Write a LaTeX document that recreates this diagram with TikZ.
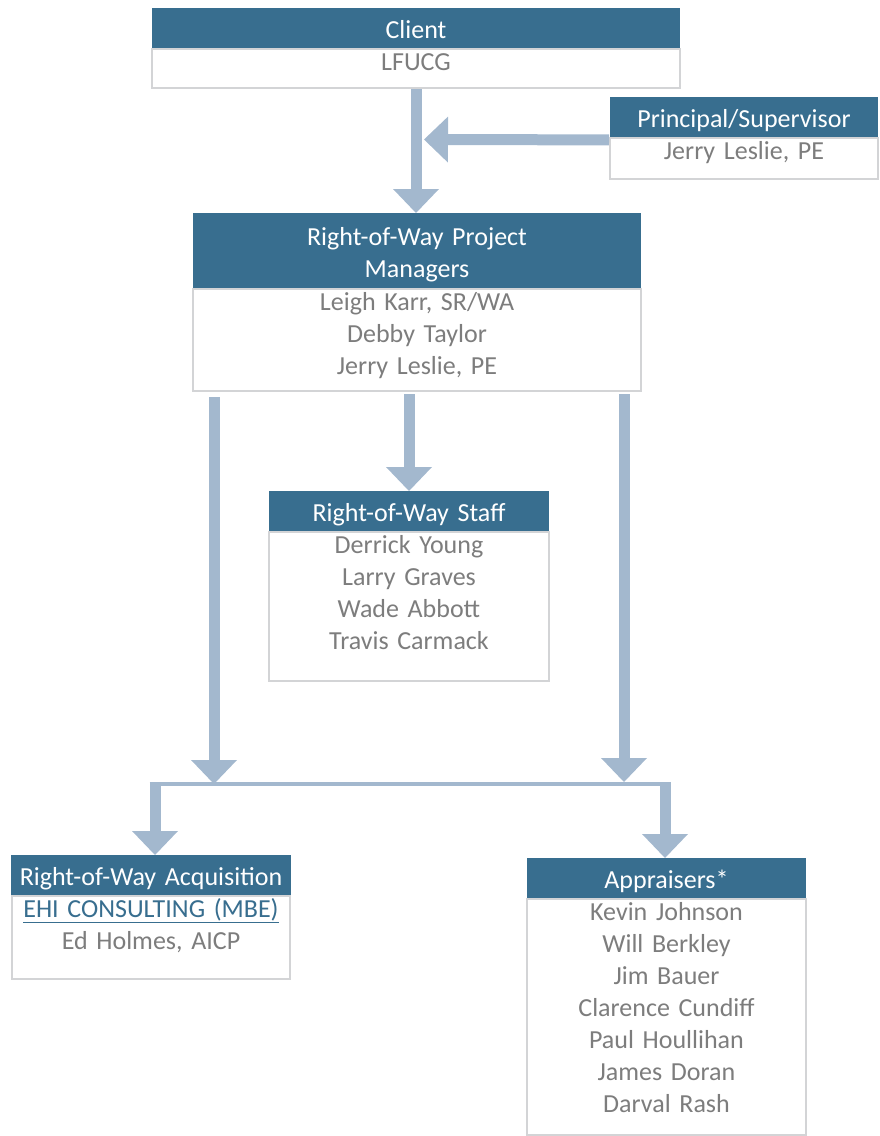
\documentclass[tikz,border=0pt]{standalone}
\usepackage{fontspec}
\setmainfont{Carlito}
\usetikzlibrary{positioning,arrows.meta}

\definecolor{hdblue}{RGB}{56,110,143}
\definecolor{flowblue}{RGB}{163,184,206}
\definecolor{rimgray}{RGB}{211,212,214}
\definecolor{namegray}{RGB}{125,125,125}

\tikzset{
	hdr/.style={fill=hdblue, text=white, anchor=north, inner sep=0pt, minimum height=40pt, text height=22pt, text depth=1pt, align=center},
	bodybox/.style={draw=rimgray, line width=2pt, fill=white, text=namegray, inner sep=0pt, text height=21pt, align=center},
	flow/.style={draw=flowblue, line width=11pt, -{Triangle[width=46pt,length=24pt,line width=0pt]}},
	bar/.style={draw=flowblue, line width=4pt},
}

\begin{document}
\frenchspacing
\begin{tikzpicture}[x=1pt, y=-1pt, font=\fontsize{26}{32}\selectfont]
	\useasboundingbox (0,0) rectangle (879,1136);

	% boxes
	\node[hdr, text width=528pt] (client) at (416,8) {Client};
	\node[bodybox, text width=528pt, text depth=18pt, below=0pt of client] (clientbody) {LFUCG};

	\node[hdr, text width=268pt] (principal) at (744,97) {Principal/Supervisor};
	\node[bodybox, text width=268pt, text depth=20pt, below=0pt of principal] (principalbody) {Jerry Leslie, PE};

	\node[hdr, text width=448pt, minimum height=75pt, text depth=33pt] (pm) at (417,213) {Right-of-Way Project\\Managers};
	\node[bodybox, text width=448pt, text depth=81pt, below=0pt of pm] (pmbody) {Leigh Karr, SR/WA\\Debby Taylor\\Jerry Leslie, PE};

	\node[hdr, text width=280pt] (staff) at (409,491) {Right-of-Way Staff};
	\node[bodybox, text width=280pt, text depth=128pt, below=0pt of staff] (staffbody) {Derrick Young\\Larry Graves\\Wade Abbott\\Travis Carmack};

	\node[hdr, text width=280pt] (acq) at (151,855) {Right-of-Way Acquisition};
	\node[bodybox, text width=278pt, text depth=62pt, below=0pt of acq] (acqbody) {{\color{hdblue}\underline{EHI CONSULTING (MBE)}}\\Ed Holmes, AICP};

	\node[hdr, text width=279pt] (appr) at (666.5,858) {Appraisers*};
	\node[bodybox, text width=279pt, text depth=215pt, below=0pt of appr] (apprbody) {Kevin Johnson\\Will Berkley\\Jim Bauer\\Clarence Cundiff\\Paul Houllihan\\James Doran\\Darval Rash};

	% arrows
	\coordinate (pjoin) at (424,139.5);
	\coordinate (ldrop) at (214,784);
	\coordinate (rdrop) at (624,782);
	\coordinate (lfork) at (155,784);
	\coordinate (rfork) at (665,784);

	\draw[flow] (clientbody.south) -- (clientbody.south |- pm.north);
	\draw[flow] ([yshift=-2.5pt]principalbody.north west) -- (pjoin);
	\draw[flow] ([yshift=-2pt]staff.north |- pmbody.south) -- (staff.north);
	\draw[flow] ([yshift=-5pt]ldrop |- pmbody.south) -- (ldrop);
	\draw[flow] ([yshift=-2pt]rdrop |- pmbody.south) -- (rdrop);
	\draw[bar] ([xshift=-5.5pt]lfork) -- ([xshift=5.5pt]rfork);
	\draw[flow] ([yshift=2pt]lfork) -- (lfork |- acq.north);
	\draw[flow] ([yshift=2pt]rfork) -- (rfork |- appr.north);
\end{tikzpicture}
\end{document}
